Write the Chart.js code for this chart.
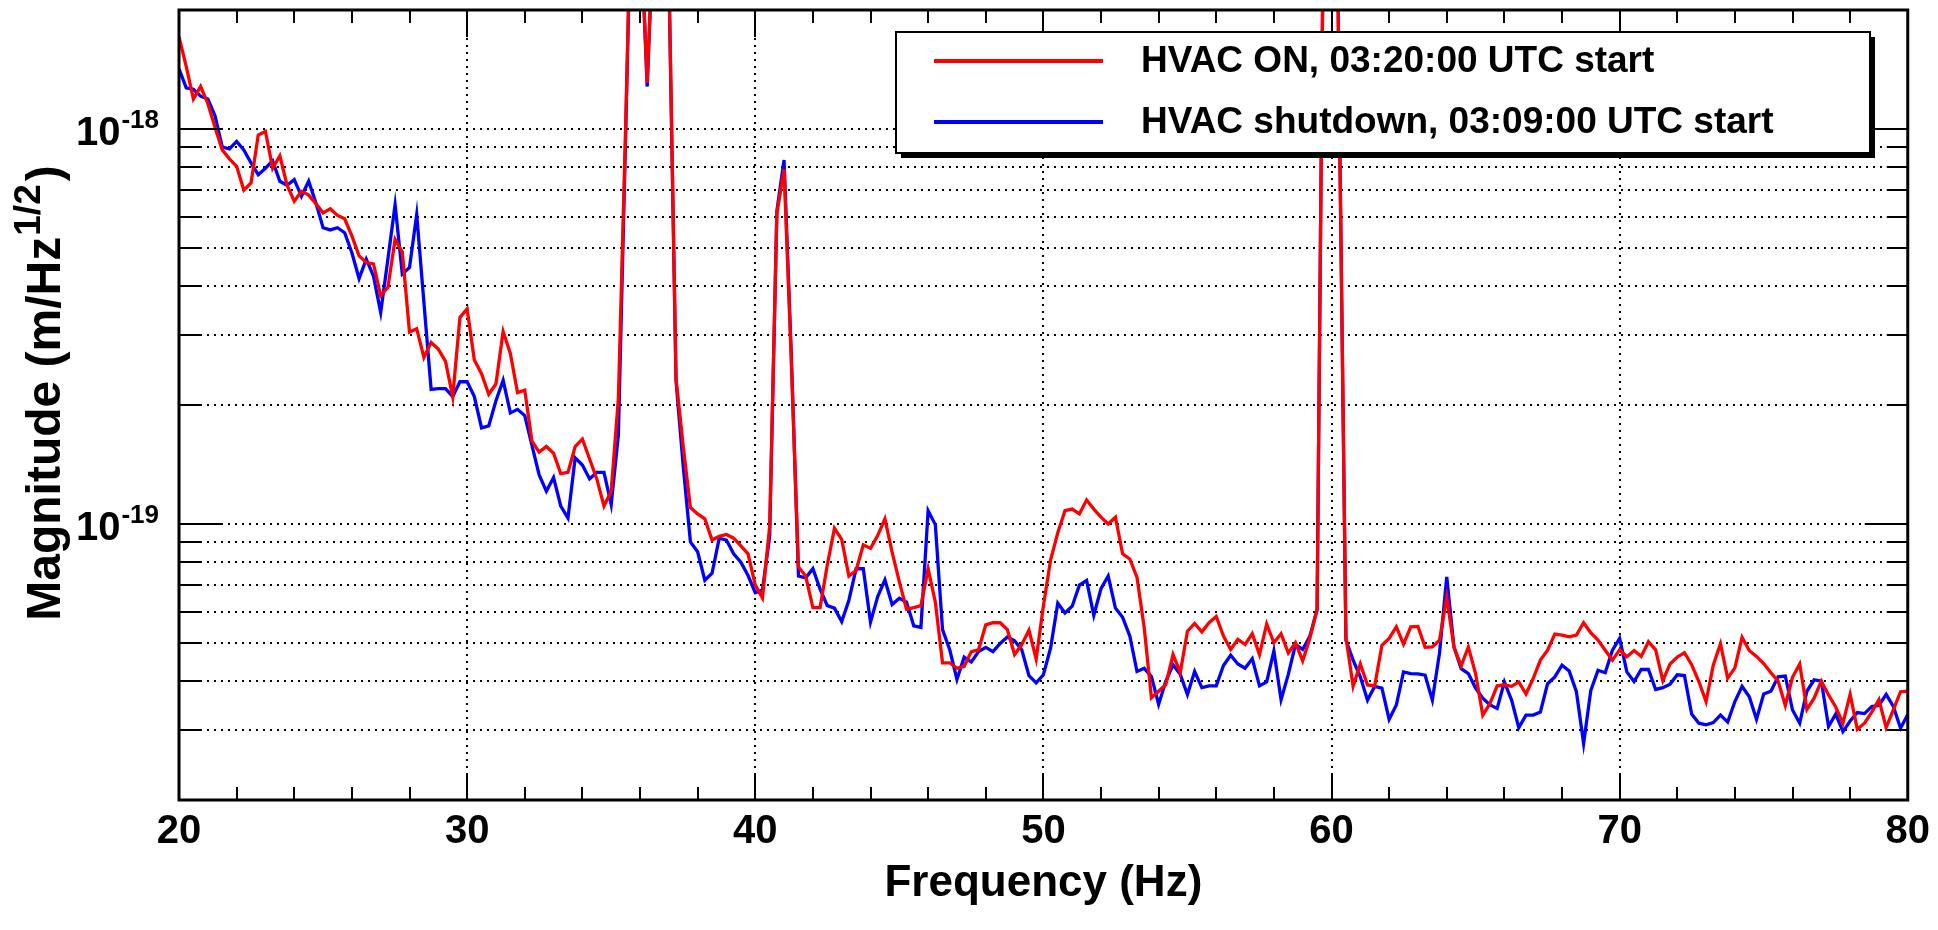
<!DOCTYPE html>
<html>
<head>
<meta charset="utf-8">
<title>HVAC magnitude spectrum</title>
<script src="https://cdn.jsdelivr.net/npm/chart.js@4.4.1/dist/chart.umd.min.js"></script>
<style>
  html, body { margin: 0; padding: 0; background: #fff; }
  #wrap { width: 1938px; height: 930px; }
</style>
</head>
<body>
<div id="wrap"><canvas id="psdChart" width="1938" height="930"></canvas></div>
<script>
// spectrum sampled every 0.25 Hz from 20 Hz to 80 Hz
const FREQ_START = 20;
const FREQ_STEP = 0.25;
// magnitudes below are in units of 1e-20 m/Hz^(1/2), one row = 2 Hz
const UNIT = 1e-20;

const hvacOn = [
  171, 144, 119, 128, 116, 101, 88.5, 84,
  80.4, 70, 73, 96.5, 98.5, 79.5, 85.5, 72,
  65.6, 69.5, 68, 64.7, 61.3, 62.8, 60.4, 59.2,
  53.6, 47.7, 45.9, 45.5, 37.8, 39.7, 52.5, 48.8,
  30.6, 31.2, 26.4, 28.8, 27.7, 25.8, 21.0, 33.3,
  35.0, 26.0, 24.0, 21.3, 22.6, 30.7, 27.0, 21.5,
  21.8, 16.2, 15.2, 15.7, 15.1, 13.4, 13.5, 15.7,
  16.4, 14.6, 13.0, 11.1, 12.1, 20.8, 100, 600,
  360, 131, 380, 5000, 260, 23.4, 15.7, 11.0,
  10.6, 10.3, 9.1, 9.3, 9.4, 9.2, 8.8, 8.4,
  7.0, 6.5, 9.85, 61, 79, 26, 7.78, 7.38,
  6.14, 6.14, 7.87, 9.75, 9.14, 7.38, 7.62, 8.85,
  8.67, 9.34, 10.3, 8.48, 7.14, 6.08, 6.14, 6.21,
  7.7, 6.34, 4.45, 4.45, 4.31, 4.36, 4.75, 4.8,
  5.55, 5.62, 5.62, 5.4, 4.67, 4.95, 5.38, 4.55,
  6.2, 8.1, 9.5, 10.8, 10.9, 10.6, 11.5, 10.9,
  10.4, 10.0, 10.4, 8.4, 8.15, 7.32, 5.46, 3.63,
  3.77, 3.92, 4.67, 4.2, 5.35, 5.6, 5.33, 5.62,
  5.83, 5.2, 4.81, 5.1, 4.95, 5.27, 4.67, 5.58,
  5.0, 5.27, 4.71, 5.0, 4.5, 5.14, 6.07, 600,
  10000, 150, 5.18, 3.88, 4.42, 3.91, 3.89, 4.93,
  5.13, 5.49, 4.96, 5.49, 5.5, 4.87, 4.88, 5.08,
  6.53, 4.88, 4.37, 4.88, 4.18, 3.28, 3.51, 3.89,
  3.91, 3.88, 3.98, 3.71, 4.06, 4.52, 4.79, 5.26,
  5.23, 5.18, 5.23, 5.62, 5.3, 5.08, 4.79, 4.52,
  4.8, 4.61, 4.78, 4.62, 5.03, 4.8, 4.01, 4.42,
  4.6, 4.72, 4.4, 3.99, 3.55, 4.39, 4.97, 4.07,
  4.32, 5.16, 4.78, 4.62, 4.43, 4.2, 4.0, 3.47,
  4.09, 4.42, 3.39, 3.62, 4.0, 3.69, 3.44, 3.13,
  3.7, 3.02, 3.13, 3.34, 3.59, 3.05, 3.38, 3.76,
  3.77
];

const hvacOff = [
  142, 127, 126, 121, 119, 108, 90, 89,
  93, 88.5, 82, 76.6, 79.5, 83, 73.7, 72,
  74.4, 67.5, 73.7, 65, 56.2, 55.5, 56.2, 54.6,
  48.6, 41.8, 46.8, 42.4, 34.3, 46.8, 64.3, 42.9,
  44.6, 60.7, 36.4, 21.9, 22.0, 22.0, 21.0, 22.9,
  22.9, 21.0, 17.5, 17.7, 20.5, 23.1, 19.1, 19.5,
  18.8, 15.8, 13.3, 12.1, 13.1, 11.1, 10.35, 14.7,
  14.1, 13.0, 13.5, 13.5, 11.2, 16.8, 95, 580,
  350, 128, 370, 5000, 250, 23.0, 14.0, 9.0,
  8.5, 7.2, 7.5, 9.2, 9.1, 8.4, 8.0, 7.4,
  6.7, 6.8, 9.3, 62, 83.4, 27, 7.38, 7.3,
  7.7, 6.84, 6.21, 6.12, 5.66, 6.41, 7.7, 7.7,
  5.64, 6.55, 7.22, 6.25, 6.48, 6.34, 5.52, 5.47,
  10.8, 9.96, 5.4, 4.8, 4.04, 4.6, 4.47, 4.75,
  4.87, 4.75, 4.98, 5.17, 5.06, 4.8, 4.13, 3.96,
  4.15, 4.85, 6.3, 5.95, 6.19, 7.0, 7.19, 5.87,
  6.86, 7.38, 6.12, 5.8, 5.2, 4.23, 4.31, 4.11,
  3.49, 4.0, 4.4, 4.16, 3.7, 4.23, 3.85, 3.89,
  3.89, 4.38, 4.65, 4.42, 4.31, 4.56, 3.89, 3.98,
  4.77, 3.59, 4.16, 4.95, 4.81, 5.2, 6.07, 620,
  10000, 150, 5.08, 4.52, 4.1, 3.58, 3.88, 3.84,
  3.2, 3.48, 4.22, 4.18, 4.17, 4.14, 3.58, 4.72,
  7.34, 4.88, 4.3, 4.18, 3.84, 3.62, 3.48, 3.41,
  3.98, 3.58, 3.05, 3.28, 3.28, 3.34, 3.94, 4.1,
  4.39, 4.24, 3.76, 2.78, 3.79, 4.26, 4.2, 4.79,
  5.13, 4.22, 3.99, 4.28, 4.28, 3.81, 3.85, 3.93,
  4.15, 4.13, 3.3, 3.13, 3.1, 3.14, 3.28, 3.15,
  3.55, 3.88, 3.65, 3.2, 3.71, 3.77, 4.1, 4.12,
  3.38, 3.13, 3.77, 4.03, 4.0, 3.07, 3.3, 2.98,
  3.17, 3.33, 3.31, 3.45, 3.47, 3.7, 3.45, 3.04,
  3.29
];

const seriesLabels = ["HVAC ON, 03:20:00 UTC start", "HVAC shutdown, 03:09:00 UTC start"];
const seriesColors = ["#ff0000", "#0000ff"];

const xTicks = [20, 30, 40, 50, 60, 70, 80];
const xMinorTicks = [22, 24, 26, 28, 32, 34, 36, 38, 42, 44, 46, 48, 52, 54, 56, 58, 62, 64, 66, 68, 72, 74, 76, 78];
const yGrid = [
  2e-20, 3e-20, 4e-20, 5e-20, 6e-20, 7e-20, 8e-20, 9e-20,
  1e-19, 2e-19, 3e-19, 4e-19, 5e-19, 6e-19, 7e-19, 8e-19, 9e-19,
  1e-18, 2e-18
];
const yLabelled = [1e-19, 1e-18];

const xTitle = "Frequency (Hz)";
const yTitle = ["Magnitude (m/Hz", "1/2", ")"];

const FONT = "'Liberation Sans', Arial, Helvetica, sans-serif";
Chart.defaults.font.family = FONT;
Chart.defaults.color = "#000";

const toPoints = arr => arr.map((v, i) => ({ x: FREQ_START + i * FREQ_STEP, y: v * UNIT }));

// frame, inward ticks, y labels with exponents, y title and the boxed legend
const rootStyle = {
  id: "rootStyle",
  afterDatasetsDraw(chart) {
    const { ctx, chartArea: a, scales: { x, y } } = chart;
    ctx.save();
    ctx.strokeStyle = "#000";
    ctx.fillStyle = "#000";

    ctx.lineWidth = 2;
    ctx.beginPath();
    xTicks.concat(xMinorTicks).forEach(v => {
      const px = Math.round(x.getPixelForValue(v));
      const len = xTicks.includes(v) ? 27 : 13;
      ctx.moveTo(px, a.bottom); ctx.lineTo(px, a.bottom - len);
      ctx.moveTo(px, a.top); ctx.lineTo(px, a.top + len);
    });
    yGrid.forEach(v => {
      const py = Math.round(y.getPixelForValue(v));
      const len = yLabelled.includes(v) ? 43 : 21;
      ctx.moveTo(a.left, py); ctx.lineTo(a.left + len, py);
      ctx.moveTo(a.right, py); ctx.lineTo(a.right - len, py);
    });
    ctx.stroke();

    ctx.lineWidth = 3;
    ctx.strokeRect(a.left, a.top, a.right - a.left, a.bottom - a.top);

    // y tick labels 10^n
    yLabelled.forEach(v => {
      const py = y.getPixelForValue(v);
      const exp = String(Math.round(Math.log10(v)));
      ctx.font = "bold 26px " + FONT;
      const supW = ctx.measureText(exp).width;
      ctx.font = "bold 40px " + FONT;
      const baseW = ctx.measureText("10").width;
      const right = 159;
      ctx.textAlign = "left";
      ctx.textBaseline = "alphabetic";
      ctx.fillText("10", right - supW - baseW - 1, py + 16);
      ctx.font = "bold 26px " + FONT;
      ctx.fillText(exp, right - supW, py - 1);
    });

    // y axis title with exponent
    ctx.save();
    ctx.translate(60, (a.top + a.bottom) / 2 - 12);
    ctx.rotate(-Math.PI / 2);
    ctx.font = "bold 48px " + FONT;
    const w0 = ctx.measureText(yTitle[0]).width;
    const w2 = ctx.measureText(yTitle[2]).width;
    ctx.font = "bold 37px " + FONT;
    const w1 = ctx.measureText(yTitle[1]).width;
    const gapA = 1, gapB = 3;
    const tx = -(w0 + gapA + w1 + gapB + w2) / 2;
    ctx.textAlign = "left";
    ctx.textBaseline = "alphabetic";
    ctx.font = "bold 48px " + FONT;
    ctx.fillText(yTitle[0], tx, 0);
    ctx.font = "bold 37px " + FONT;
    ctx.fillText(yTitle[1], tx + w0 + gapA, -20);
    ctx.font = "bold 48px " + FONT;
    ctx.fillText(yTitle[2], tx + w0 + gapA + w1 + gapB, 0);
    ctx.restore();

    // legend box with shadow
    const box = { x: 896, y: 32, w: 974, h: 121 };
    ctx.fillRect(box.x + 5, box.y + 5, box.w, box.h);
    ctx.fillStyle = "#fff";
    ctx.fillRect(box.x, box.y, box.w, box.h);
    ctx.lineWidth = 2;
    ctx.strokeRect(box.x, box.y, box.w, box.h);
    chart.data.datasets.forEach((ds, i) => {
      const ly = box.y + 29 + i * 61;
      ctx.strokeStyle = ds.borderColor;
      ctx.lineWidth = 4;
      ctx.beginPath();
      ctx.moveTo(box.x + 38, ly); ctx.lineTo(box.x + 207, ly);
      ctx.stroke();
      ctx.fillStyle = "#000";
      ctx.font = "bold 37px " + FONT;
      ctx.textAlign = "left";
      ctx.textBaseline = "middle";
      ctx.fillText(ds.label, box.x + 245, ly + 1);
    });
    ctx.restore();
  }
};

const ctx = document.getElementById("psdChart").getContext("2d");
new Chart(ctx, {
  type: "line",
  data: {
    datasets: [
      {
        label: seriesLabels[0],
        data: toPoints(hvacOn),
        borderColor: seriesColors[0],
        borderWidth: 3.3,
        pointRadius: 0,
        fill: false,
        tension: 0,
      },
      {
        label: seriesLabels[1],
        data: toPoints(hvacOff),
        borderColor: seriesColors[1],
        borderWidth: 3.3,
        pointRadius: 0,
        fill: false,
        tension: 0,
      },
    ],
  },
  options: {
    responsive: false,
    animation: false,
    devicePixelRatio: 1,
    layout: { padding: { top: 10, right: 28, left: 0, bottom: 0 } },
    plugins: {
      legend: { display: false },
      tooltip: { enabled: false },
    },
    scales: {
      x: {
        type: "linear",
        min: 20,
        max: 80,
        afterBuildTicks: s => { s.ticks = xTicks.map(v => ({ value: v })); },
        afterFit: s => { s.height = 130; },
        grid: { color: "#000", lineWidth: 2, drawTicks: false },
        border: { display: false, dash: [2, 5] },
        ticks: {
          autoSkip: false,
          maxRotation: 0,
          padding: 8,
          color: "#000",
          font: { size: 40, weight: "bold" },
        },
        title: {
          display: true,
          text: xTitle,
          color: "#000",
          font: { size: 44, weight: "bold" },
          padding: { top: 0, bottom: 20 },
        },
      },
      y: {
        type: "logarithmic",
        min: 2e-20,
        max: 2e-18,
        afterBuildTicks: s => { s.ticks = yGrid.map(v => ({ value: v })); },
        afterFit: s => { s.width = 179; },
        grid: { color: "#000", lineWidth: 2, drawTicks: false },
        border: { display: false, dash: [2, 5] },
        ticks: { display: false },
      },
    },
  },
  plugins: [rootStyle],
});
</script>
</body>
</html>
